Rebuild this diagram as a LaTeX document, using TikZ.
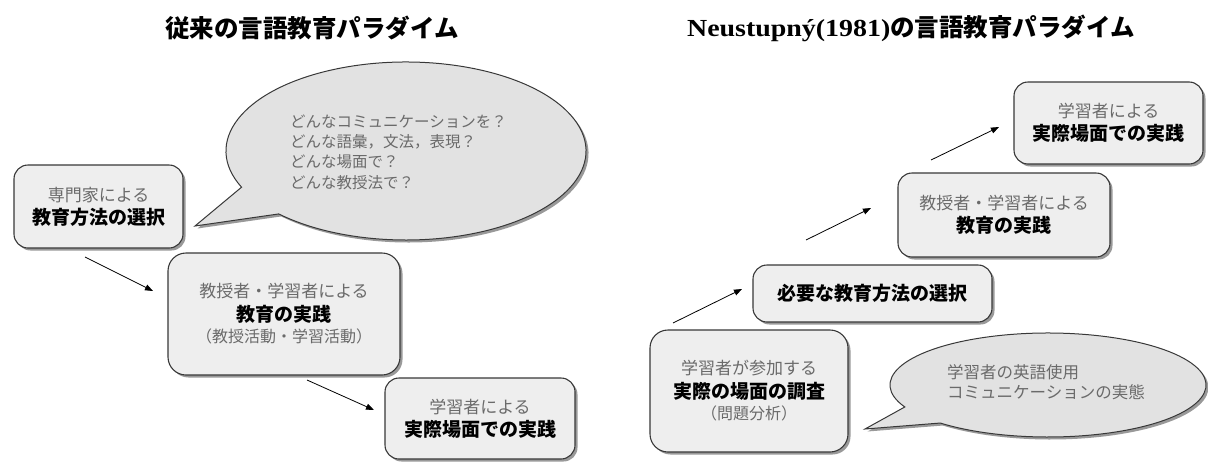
\documentclass[tikz,border=0pt]{standalone}
\usepackage{graphicx}
\usepackage{fontspec}
\setmainfont{Noto Sans CJK JP}
\newfontfamily\lat{Liberation Serif}
\usetikzlibrary{shadows,arrows.meta}
\definecolor{boxfill}{HTML}{EEEEEE}
\definecolor{bubfill}{HTML}{E2E2E2}
\definecolor{edge}{HTML}{383838}
\definecolor{lighttext}{HTML}{6A6A6A}
\newcommand\bk[1]{{\color{black}\bfseries\fontsize{19}{24}\selectfont #1}}
\newcommand\sm[1]{{\fontsize{16}{22}\selectfont #1}}
\tikzset{
  stepbox/.style={draw=edge, line width=1.1pt, fill=boxfill, rounded corners=14pt,
    drop shadow={shadow xshift=2.5pt, shadow yshift=-2.5pt, opacity=0.4, fill=black},
    align=center, inner sep=0pt, text=lighttext, font=\fontsize{17}{24}\selectfont},
  bubble/.style={draw=edge, line width=1pt, fill=bubfill,
    drop shadow={shadow xshift=2.5pt, shadow yshift=-2.5pt, opacity=0.4, fill=black}},
  bubtext/.style={align=left, inner sep=0pt, text=lighttext, anchor=west},
  arr/.style={-{Triangle[length=8pt,width=6pt]}, line width=0.8pt, black},
  titlef/.style={inner sep=0pt, font=\bfseries\fontsize{24.5}{28}\selectfont}
}
\begin{document}
\begin{tikzpicture}[x=1pt,y=-1pt]
\useasboundingbox (0,0) rectangle (1208,461);
% titles
\node[titlef] (t1) at (312,28) {従来の言語教育パラダイム};
\node[titlef] (t2) at (911,28) {{\lat\bfseries\scalebox{1.14}[1]{Neustupný(1981)}}の言語教育パラダイム};

% left bubble
\path[bubble] (406,151) ++(156:180 and 89)
  arc[start angle=156, end angle=495, x radius=180, y radius=89]
  -- (195,226) -- cycle;
\node[bubtext, font=\fontsize{15.5}{20.3}\selectfont] (q) at (290,152)
  {どんなコミュニケーションを？\\どんな語彙，文法，表現？\\どんな場面で？\\どんな教授法で？};

% left boxes
\node[stepbox, minimum width=169, minimum height=83] (A) at (98.5,206.5)
  {専門家による\\[-1pt]\bk{教育方法の選択}};
\node[stepbox, minimum width=232, minimum height=122, rounded corners=18pt] (B) at (284,314)
  {教授者・学習者による\\\bk{教育の実践}\\[-3pt]\sm{（教授活動・学習活動）}};
\node[stepbox, minimum width=190, minimum height=81] (C) at (480,418.5)
  {学習者による\\[-1pt]\bk{実際場面での実践}};

\coordinate (a1s) at (85,257);
\coordinate (a1e) at (153,291);
\coordinate (a2s) at (307,380);
\coordinate (a2e) at (374,410);
\draw[arr] (a1s) -- (a1e);
\draw[arr] (a2s) -- (a2e);

% right bubble
\path[bubble] (1048,385) ++(155:158 and 52)
  arc[start angle=155, end angle=493, x radius=158, y radius=52]
  -- (865,429) -- cycle;
\node[bubtext, font=\fontsize{16.5}{20}\selectfont] (r) at (947,382)
  {学習者の英語使用\\コミュニケーションの実態};

% right boxes
\node[stepbox, minimum width=198, minimum height=122, rounded corners=18pt] (R1) at (749,391)
  {学習者が参加する\\\bk{実際の場面の調査}\\[-3pt]\sm{（問題分析）}};
\node[stepbox, minimum width=239, minimum height=57] (R2) at (872.5,293.5)
  {\bk{必要な教育方法の選択}};
\node[stepbox, minimum width=212, minimum height=84] (R3) at (1004,215)
  {教授者・学習者による\\[-1pt]\bk{教育の実践}};
\node[stepbox, minimum width=189, minimum height=82] (R4) at (1108.5,123)
  {学習者による\\[-1pt]\bk{実際場面での実践}};

\coordinate (b1s) at (673,323);
\coordinate (b1e) at (742,289);
\coordinate (b2s) at (806,240);
\coordinate (b2e) at (871,208);
\coordinate (b3s) at (931,160);
\coordinate (b3e) at (999,127);
\draw[arr] (b1s) -- (b1e);
\draw[arr] (b2s) -- (b2e);
\draw[arr] (b3s) -- (b3e);
\end{tikzpicture}
\end{document}
